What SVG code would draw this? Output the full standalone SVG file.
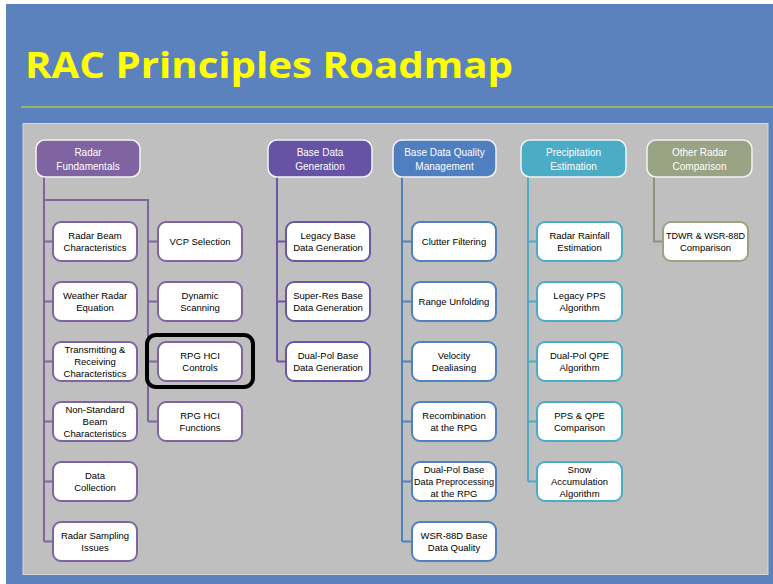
<svg xmlns="http://www.w3.org/2000/svg" width="773" height="584" viewBox="0 0 773 584">
<style>
.n rect{fill:#fff;stroke-width:2}
.n text,.h text{font-family:"Liberation Sans",Arial,sans-serif;text-anchor:middle;dominant-baseline:central}
.n text{font-size:9.5px;fill:#000}
.h text{font-size:10px;fill:#fff}
.h rect{stroke:#f4f4f4;stroke-width:1.5}
.rf rect{stroke:#8064A2}
.bdg rect{stroke:#6A57A8}
.bdq rect{stroke:#4F81BD}
.pe rect{stroke:#4BACC6}
.or rect{stroke:#9CA383}
#connectors path{fill:none;stroke-width:2}
</style>
<rect x="0" y="0" width="773" height="584" fill="#ffffff"/>
<rect x="6" y="4" width="767" height="580" fill="#5B82BD"/>
<text x="25" y="78" font-family="'Open Sans','DejaVu Sans',sans-serif" font-weight="bold" font-size="35" fill="#FFFF00" textLength="488" lengthAdjust="spacingAndGlyphs">RAC Principles Roadmap</text>
<line x1="21" y1="107" x2="773" y2="107" stroke="#A8C84A" stroke-width="1.5"/>
<rect x="23" y="123.5" width="745" height="451" fill="#BFBFBF" stroke="#D6D6D6" stroke-width="1"/>

<g id="connectors">
<path stroke="#7E65A0" d="M44 177V541.5M44 241.5H53M44 301.5H53M44 361.5H53M44 421.5H53M44 481.5H53M44 541.5H53M44 200H148V421.5M148 241.5H158M148 301.5H158M148 361.5H158M148 421.5H158"/>
<path stroke="#6A57A8" d="M277 177V361.5M277 241.5H286M277 301.5H286M277 361.5H286"/>
<path stroke="#4F81BD" d="M402 177V541.5M402 241.5H412M402 301.5H412M402 361.5H412M402 421.5H412M402 481.5H412M402 541.5H412"/>
<path stroke="#4BACC6" d="M528 177V481.5M528 241.5H537M528 301.5H537M528 361.5H537M528 421.5H537M528 481.5H537"/>
<path stroke="#8E9479" d="M654 177V241.5H663"/>
</g>

<g id="h-rf" class="h"><rect x="36" y="140" width="104" height="37" rx="9" fill="#8064A2"/><text x="88" y="152">Radar</text><text x="88" y="166">Fundamentals</text></g>
<g id="h-bdg" class="h"><rect x="268" y="140" width="104" height="37" rx="9" fill="#6653A6"/><text x="320" y="152">Base Data</text><text x="320" y="166">Generation</text></g>
<g id="h-bdq" class="h"><rect x="393" y="140" width="103" height="37" rx="9" fill="#4F7FC0"/><text x="444.5" y="152">Base Data Quality</text><text x="444.5" y="166">Management</text></g>
<g id="h-pe" class="h"><rect x="521" y="140" width="105" height="37" rx="9" fill="#4BACC6"/><text x="573.5" y="152">Precipitation</text><text x="573.5" y="166">Estimation</text></g>
<g id="h-or" class="h"><rect x="647" y="140" width="105" height="37" rx="9" fill="#9BA385"/><text x="699.5" y="152" fill="#EEF0E2">Other Radar</text><text x="699.5" y="166" fill="#EEF0E2">Comparison</text></g>

<g id="n-rbc" class="n rf"><rect x="53" y="222" width="84" height="39" rx="8"/><text x="95" y="235.5">Radar Beam</text><text x="95" y="247.5">Characteristics</text></g>
<g id="n-wre" class="n rf"><rect x="53" y="282" width="84" height="39" rx="8"/><text x="95" y="295.5">Weather Radar</text><text x="95" y="307.5">Equation</text></g>
<g id="n-trc" class="n rf"><rect x="53" y="342" width="84" height="39" rx="8"/><text x="95" y="349.5">Transmitting &amp;</text><text x="95" y="361.5">Receiving</text><text x="95" y="373.5">Characteristics</text></g>
<g id="n-nsb" class="n rf"><rect x="53" y="402" width="84" height="39" rx="8"/><text x="95" y="409.5">Non-Standard</text><text x="95" y="421.5">Beam</text><text x="95" y="433.5">Characteristics</text></g>
<g id="n-dc" class="n rf"><rect x="53" y="462" width="84" height="39" rx="8"/><text x="95" y="475.5">Data</text><text x="95" y="487.5">Collection</text></g>
<g id="n-rsi" class="n rf"><rect x="53" y="522" width="84" height="39" rx="8"/><text x="95" y="535.5">Radar Sampling</text><text x="95" y="547.5">Issues</text></g>

<g id="n-vcp" class="n rf"><rect x="158" y="222" width="84" height="39" rx="8"/><text x="200" y="241.5">VCP Selection</text></g>
<g id="n-ds" class="n rf"><rect x="158" y="282" width="84" height="39" rx="8"/><text x="200" y="295.5">Dynamic</text><text x="200" y="307.5">Scanning</text></g>
<g id="n-rhc" class="n rf"><rect x="158" y="342" width="84" height="39" rx="8"/><text x="200" y="355.5">RPG HCI</text><text x="200" y="367.5">Controls</text></g>
<g id="n-rhf" class="n rf"><rect x="158" y="402" width="84" height="39" rx="8"/><text x="200" y="415.5">RPG HCI</text><text x="200" y="427.5">Functions</text></g>
<g id="highlight"><rect x="147" y="335" width="106" height="52" rx="9" fill="none" stroke="#000" stroke-width="4"/></g>

<g id="n-lbd" class="n bdg"><rect x="286" y="222" width="84" height="39" rx="8"/><text x="328" y="235.5">Legacy Base</text><text x="328" y="247.5">Data Generation</text></g>
<g id="n-srb" class="n bdg"><rect x="286" y="282" width="84" height="39" rx="8"/><text x="328" y="295.5">Super-Res Base</text><text x="328" y="307.5">Data Generation</text></g>
<g id="n-dpb" class="n bdg"><rect x="286" y="342" width="84" height="39" rx="8"/><text x="328" y="355.5">Dual-Pol Base</text><text x="328" y="367.5">Data Generation</text></g>

<g id="n-cf" class="n bdq"><rect x="412" y="222" width="84" height="39" rx="8"/><text x="454" y="241.5">Clutter Filtering</text></g>
<g id="n-ru" class="n bdq"><rect x="412" y="282" width="84" height="39" rx="8"/><text x="454" y="301.5">Range Unfolding</text></g>
<g id="n-vd" class="n bdq"><rect x="412" y="342" width="84" height="39" rx="8"/><text x="454" y="355.5">Velocity</text><text x="454" y="367.5">Dealiasing</text></g>
<g id="n-rec" class="n bdq"><rect x="412" y="402" width="84" height="39" rx="8"/><text x="454" y="415.5">Recombination</text><text x="454" y="427.5">at the RPG</text></g>
<g id="n-dpp" class="n bdq"><rect x="412" y="462" width="84" height="39" rx="8"/><text x="454" y="469.5">Dual-Pol Base</text><text x="454" y="481.5" textLength="80" lengthAdjust="spacingAndGlyphs">Data Preprocessing</text><text x="454" y="493.5">at the RPG</text></g>
<g id="n-wsr" class="n bdq"><rect x="412" y="522" width="84" height="39" rx="8"/><text x="454" y="535.5">WSR-88D Base</text><text x="454" y="547.5">Data Quality</text></g>

<g id="n-rre" class="n pe"><rect x="537" y="222" width="85" height="39" rx="8"/><text x="579.5" y="235.5">Radar Rainfall</text><text x="579.5" y="247.5">Estimation</text></g>
<g id="n-lpps" class="n pe"><rect x="537" y="282" width="85" height="39" rx="8"/><text x="579.5" y="295.5">Legacy PPS</text><text x="579.5" y="307.5">Algorithm</text></g>
<g id="n-dpq" class="n pe"><rect x="537" y="342" width="85" height="39" rx="8"/><text x="579.5" y="355.5">Dual-Pol QPE</text><text x="579.5" y="367.5">Algorithm</text></g>
<g id="n-ppsq" class="n pe"><rect x="537" y="402" width="85" height="39" rx="8"/><text x="579.5" y="415.5">PPS &amp; QPE</text><text x="579.5" y="427.5">Comparison</text></g>
<g id="n-snow" class="n pe"><rect x="537" y="462" width="85" height="39" rx="8"/><text x="579.5" y="469.5">Snow</text><text x="579.5" y="481.5">Accumulation</text><text x="579.5" y="493.5">Algorithm</text></g>

<g id="n-tdwr" class="n or"><rect x="663" y="222" width="85" height="39" rx="8"/><text x="705.5" y="235.5" textLength="79" lengthAdjust="spacingAndGlyphs">TDWR &amp; WSR-88D</text><text x="705.5" y="247.5">Comparison</text></g>
</svg>
